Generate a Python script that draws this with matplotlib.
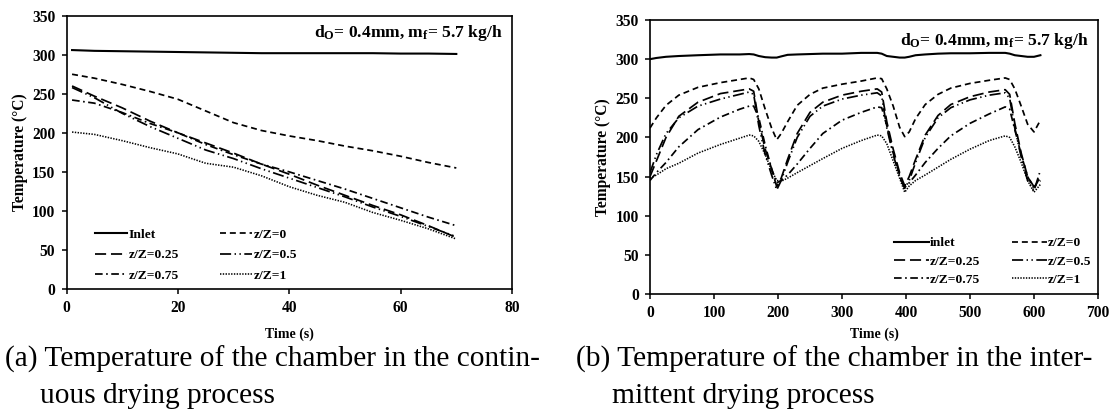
import matplotlib
matplotlib.use("Agg")
import matplotlib.pyplot as plt

plt.rcParams['font.family'] = ['Liberation Serif', 'DejaVu Serif']
plt.rcParams['mathtext.fontset'] = 'custom'
plt.rcParams['mathtext.rm'] = 'Liberation Serif:bold'
plt.rcParams['mathtext.bf'] = 'Liberation Serif:bold'
plt.rcParams['mathtext.it'] = 'Liberation Serif:bold'
plt.rcParams['lines.scale_dashes'] = False

# ---------------- data: (a) continuous drying ----------------
t_cont = [1, 5, 10, 15, 20, 25, 30, 35, 40, 45, 50, 55, 60, 65, 70]
cont_inlet = [306, 305, 304.5, 304, 303.5, 303, 302.5, 302, 302, 302, 302, 302, 301.5, 301.5, 301]
cont_z0 = [275, 270, 262, 253, 243, 228, 213, 203, 196, 190, 183, 177, 170, 162, 155]
cont_z025 = [260, 247, 232, 215, 200, 187, 174, 160, 147, 133, 120, 107, 95, 81, 66]
cont_z05 = [258, 245, 225, 208, 193, 178, 167, 154, 142, 130, 118, 105, 93, 80, 67]
cont_z075 = [242, 238, 226, 212, 200, 185, 172, 160, 150, 139, 128, 116, 104, 92, 81]
cont_z1 = [201, 198, 190, 181, 173, 161, 156, 145, 131, 120, 111, 98, 88, 77, 64]

# ---------------- data: (b) intermittent drying ----------------
t_int = [0, 10, 25, 45, 75, 110, 140, 155, 162, 170, 180, 190, 198, 205, 215, 230, 250, 270,
         300, 330, 355, 362, 370, 380, 390, 398, 405, 415, 430, 450, 470, 500, 530, 555, 562,
         570, 580, 590, 600, 610]
int_inlet = [300, 301.5, 303, 304, 305, 306, 306, 306.5, 306, 304, 302.5, 302, 302, 303.5, 305.5,
             306, 306.5, 307, 307, 308, 308, 307, 304, 303, 302, 302, 303, 305, 306, 307, 307.5,
             307.5, 308, 308, 307, 305, 304, 303, 303, 305]
int_z0 = [212, 225, 241, 254, 264, 270, 274, 276, 274, 262, 236, 212, 197, 205, 220, 241, 255, 263,
          268, 272, 276, 275, 262, 240, 213, 201, 207, 224, 242, 255, 263, 269, 273, 276, 274,
          262, 240, 217, 207, 222]
int_z025 = [150, 170, 200, 227, 245, 256, 260, 262, 259, 220, 185, 160, 137, 148, 172, 205, 232, 245,
            254, 259, 262, 258, 220, 185, 155, 138, 150, 172, 203, 228, 242, 252, 258, 261, 255,
            218, 180, 150, 137, 145]
int_z05 = [155, 178, 205, 225, 240, 249, 255, 258, 255, 215, 178, 152, 133, 145, 168, 200, 227, 240,
           249, 254, 257, 253, 212, 178, 150, 135, 145, 168, 200, 225, 238, 248, 254, 257, 250,
           212, 175, 145, 132, 158]
int_z075 = [145, 155, 168, 188, 210, 226, 236, 240, 240, 225, 190, 160, 142, 145, 152, 166, 186, 205,
            222, 232, 239, 238, 215, 180, 152, 136, 142, 152, 168, 186, 202, 218, 230, 239, 236,
            210, 178, 150, 135, 150]
int_z1 = [148, 152, 160, 167, 180, 191, 199, 203, 202, 195, 178, 158, 145, 144, 148, 155, 164, 173,
          186, 196, 203, 202, 192, 170, 148, 130, 138, 145, 152, 162, 172, 185, 196, 202, 200,
          188, 168, 145, 130, 140]

labels_a = ['Inlet', 'z/Z=0', 'z/Z=0.25', 'z/Z=0.5', 'z/Z=0.75', 'z/Z=1']
labels_b = ['inlet', 'z/Z=0', 'z/Z=0.25', 'z/Z=0.5', 'z/Z=0.75', 'z/Z=1']
annot_text = r"d$_{\mathregular{O}}$= 0.4mm, m$_{\mathregular{f}}$= 5.7 kg/h"
caption_a = ["(a) Temperature of the chamber in the contin-", "uous drying process"]
caption_b = ["(b) Temperature of the chamber in the inter-", "mittent drying process"]

styles = [
    dict(linestyle='-', lw=1.5),
    dict(linestyle=(0, (4.3, 2.8)), lw=1.25),
    dict(linestyle=(0, (8.0, 3.5)), lw=1.25),
    dict(linestyle=(0, (8.0, 2.5, 1.0, 2.5, 1.0, 2.5)), lw=1.25),
    dict(linestyle=(0, (5.5, 2.5, 1.2, 2.5)), lw=1.25),
    dict(linestyle=(0, (1.0, 1.0)), lw=1.15),
]

W, H = 1115, 412
fig = plt.figure(figsize=(W / 100, H / 100), dpi=100)


def px_axes(x0, y0, x1, y1):
    return fig.add_axes([x0 / W, 1 - y1 / H, (x1 - x0) / W, (y1 - y0) / H])


def style_axes(ax, xmax, xstep, xlabelpad):
    ax.set_ylim(0, 350)
    ax.set_yticks(range(0, 351, 50))
    ax.set_xlim(0, xmax)
    ax.set_xticks(range(0, xmax + 1, xstep))
    for s in ax.spines.values():
        s.set_linewidth(1.2)
    ax.tick_params(direction='out', length=3.6, width=1.1, pad=4.5, labelsize=11.2,
                   top=False, right=False)
    for lab in ax.get_xticklabels() + ax.get_yticklabels():
        lab.set_fontweight('bold')
    ax.set_ylabel('Temperature (°C)', fontsize=11.2, fontweight='bold', labelpad=3)
    ax.set_xlabel('Time (s)', fontsize=10, fontweight='bold', labelpad=xlabelpad)


def draw(ax, t, series, labels, leg_anchor, hlen, colsp, lspace):
    handles = []
    for y, st, lab in zip(series, styles, labels):
        h, = ax.plot(t, y, color='black', label=lab, **st)
        handles.append(h)
    order = [0, 2, 4, 1, 3, 5]
    ax.legend([handles[i] for i in order], [labels[i] for i in order], ncol=2,
              frameon=False, loc='lower left', bbox_to_anchor=leg_anchor,
              borderpad=0, borderaxespad=0, handlelength=hlen, handletextpad=0.12,
              columnspacing=colsp, labelspacing=lspace,
              prop=dict(family='Liberation Serif', weight='bold', size=9.7))


ax1 = px_axes(66.5, 15.7, 512, 289)
style_axes(ax1, 80, 20, 8)
draw(ax1, t_cont, [cont_inlet, cont_z0, cont_z025, cont_z05, cont_z075, cont_z1], labels_a,
     (0.064, 0.025), 2.35, 3.1, 0.62)
ax1.text(0.978, 0.935, annot_text, transform=ax1.transAxes, ha='right', va='center',
         fontsize=12.6, fontweight='bold')

ax2 = px_axes(650, 20, 1098, 294)
style_axes(ax2, 700, 100, 4.5)
draw(ax2, t_int, [int_inlet, int_z0, int_z025, int_z05, int_z075, int_z1], labels_b,
     (0.545, 0.03), 2.55, 2.35, 0.43)
ax2.text(0.978, 0.925, annot_text, transform=ax2.transAxes, ha='right', va='center',
         fontsize=12.6, fontweight='bold')

cap_fs = 21.2
fig.text(5 / W, 1 - 367 / H, caption_a[0], fontsize=cap_fs, ha='left', va='baseline')
fig.text(40 / W, 1 - 403 / H, caption_a[1], fontsize=cap_fs, ha='left', va='baseline')
fig.text(576 / W, 1 - 367 / H, caption_b[0], fontsize=cap_fs, ha='left', va='baseline')
fig.text(612 / W, 1 - 403 / H, caption_b[1], fontsize=cap_fs, ha='left', va='baseline')

fig.savefig('out.png', dpi=100)
